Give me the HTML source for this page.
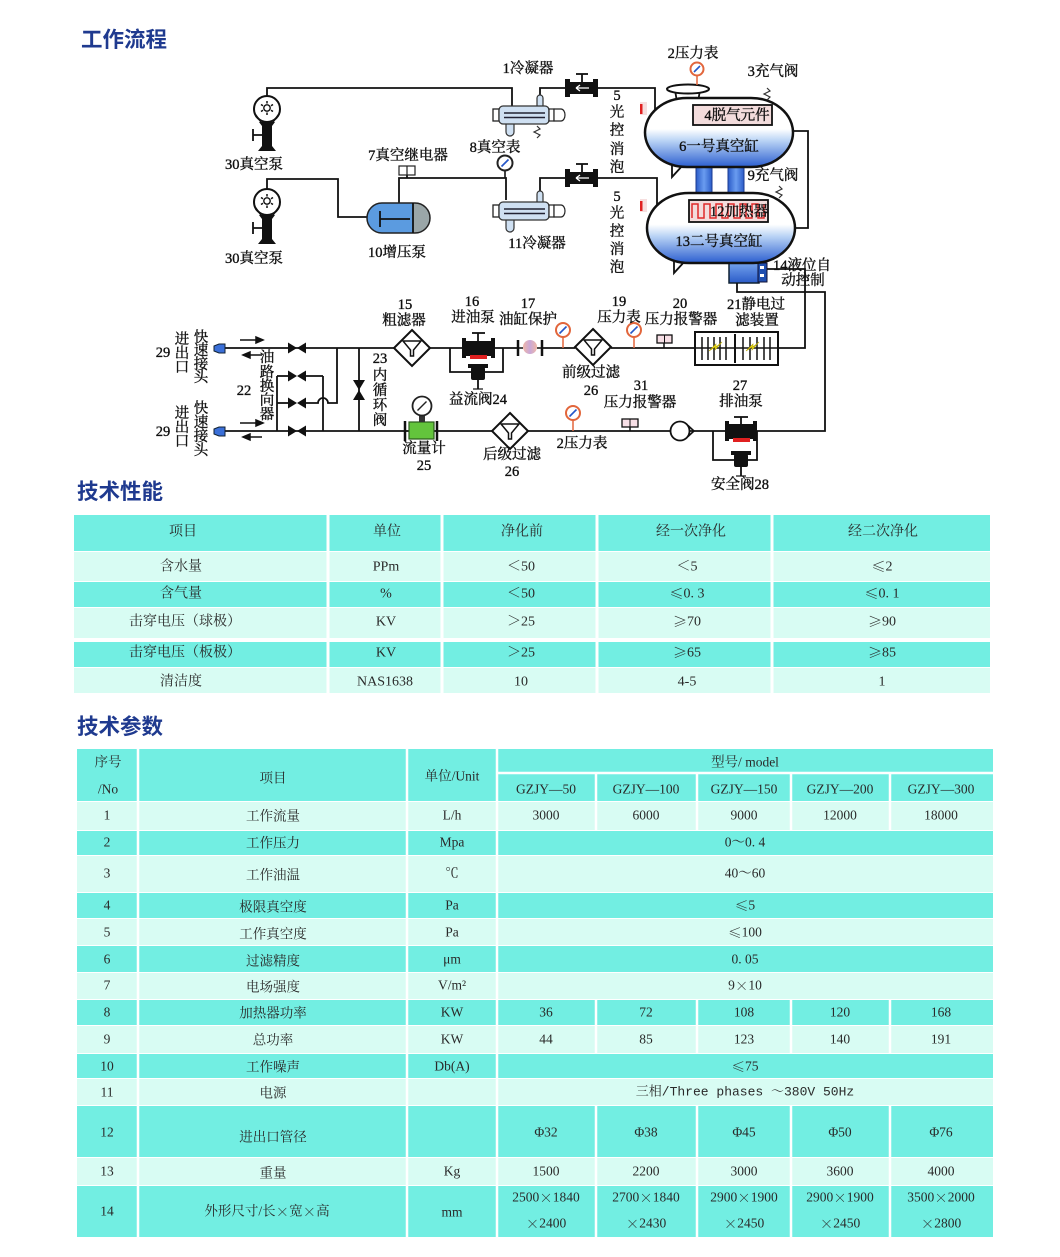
<!DOCTYPE html>
<html><head><meta charset="utf-8">
<style>
html,body{margin:0;padding:0;background:#fff;}
svg{display:block;}
.t{font-family:"Liberation Serif","Noto Serif CJK SC",serif;font-size:14.5px;fill:#111;stroke:#111;stroke-width:0.35;}
.tb{font-family:"Liberation Serif","Noto Serif CJK SC",serif;font-size:14px;fill:#2a2a2a;}
.tc{font-family:"Liberation Serif","Noto Serif CJK SC",serif;font-size:13.5px;fill:#2a2a2a;}
.tm{font-family:"Liberation Mono","Noto Serif CJK SC",monospace;font-size:13px;fill:#2a2a2a;}
.cj{font-family:"Noto Serif CJK SC",serif;}
.h{font-family:"Liberation Sans","Noto Sans CJK SC",sans-serif;font-size:21.5px;font-weight:700;fill:#1f3a8f;}
</style></head><body>
<svg width="1060" height="1257" viewBox="0 0 1060 1257" xmlns="http://www.w3.org/2000/svg">
<defs>
<linearGradient id="tank" x1="0" y1="0" x2="0" y2="1">
 <stop offset="0" stop-color="#ffffff"/>
 <stop offset="0.45" stop-color="#ffffff"/>
 <stop offset="0.62" stop-color="#b9d3f5"/>
 <stop offset="1" stop-color="#2c5fd0"/>
</linearGradient>
<linearGradient id="pipe" x1="0" y1="0" x2="1" y2="0">
 <stop offset="0" stop-color="#2a5bc8"/><stop offset="0.5" stop-color="#6a9cf0"/><stop offset="1" stop-color="#2a5bc8"/>
</linearGradient>
<linearGradient id="box" x1="0" y1="0" x2="0" y2="1">
 <stop offset="0" stop-color="#86b4f6"/><stop offset="1" stop-color="#2a5bc8"/>
</linearGradient>
<linearGradient id="p17" x1="0" y1="0" x2="1" y2="0">
 <stop offset="0" stop-color="#efb6a8"/><stop offset="0.5" stop-color="#c9a8d8"/><stop offset="1" stop-color="#f0b8a8"/>
</linearGradient>
<clipPath id="cap"><rect x="367" y="203" width="63" height="30" rx="15" ry="15"/></clipPath>
</defs>

<!-- ============ TITLES ============ -->
<text x="81" y="40" class="h" dominant-baseline="central">工作流程</text>
<text x="77" y="492" class="h" dominant-baseline="central">技术性能</text>
<text x="77" y="727" class="h" dominant-baseline="central">技术参数</text>

<!-- ============ TABLE 1 ============ -->
<g>
<rect x="74" y="515" width="916" height="36" fill="#72eee2"/>
<rect x="74" y="552" width="916" height="29" fill="#d8fcf3"/>
<rect x="74" y="582" width="916" height="25" fill="#72eee2"/>
<rect x="74" y="608" width="916" height="30" fill="#d8fcf3"/>
<rect x="74" y="642" width="916" height="25" fill="#72eee2"/>
<rect x="74" y="668" width="916" height="25" fill="#d8fcf3"/>
<g stroke="#fff" stroke-width="3">
<line x1="328" y1="515" x2="328" y2="693"/>
<line x1="442" y1="515" x2="442" y2="693"/>
<line x1="597" y1="515" x2="597" y2="693"/>
<line x1="772" y1="515" x2="772" y2="693"/>
</g>
<g class="tb" text-anchor="middle" dominant-baseline="central">
<text x="183" y="532">项目</text><text x="387" y="532">单位</text><text x="522" y="532">净化前</text><text x="691" y="532">经一次净化</text><text x="883" y="532">经二次净化</text>
<text x="181" y="567">含水量</text><text x="386" y="567">PPm</text><text x="521" y="567">＜50</text><text x="687" y="567">＜5</text><text x="882" y="567"><tspan class="cj">≤</tspan>2</text>
<text x="181" y="594">含气量</text><text x="386" y="594">%</text><text x="521" y="594">＜50</text><text x="687" y="594"><tspan class="cj">≤</tspan>0. 3</text><text x="882" y="594"><tspan class="cj">≤</tspan>0. 1</text>
<text x="185" y="622">击穿电压（球极）</text><text x="386" y="622">KV</text><text x="521" y="622">＞25</text><text x="687" y="622"><tspan class="cj">≥</tspan>70</text><text x="882" y="622"><tspan class="cj">≥</tspan>90</text>
<text x="185" y="653">击穿电压（板极）</text><text x="386" y="653">KV</text><text x="521" y="653">＞25</text><text x="687" y="653"><tspan class="cj">≥</tspan>65</text><text x="882" y="653"><tspan class="cj">≥</tspan>85</text>
<text x="181" y="682">清洁度</text><text x="385" y="682">NAS1638</text><text x="521" y="682">10</text><text x="687" y="682">4-5</text><text x="882" y="682">1</text>
</g>
</g>

<!-- ============ TABLE 2 ============ -->
<g>
<rect x="77" y="749" width="916" height="52" fill="#72eee2"/>
<rect x="77" y="802" width="916" height="28" fill="#d8fcf3"/>
<rect x="77" y="831" width="916" height="24" fill="#72eee2"/>
<rect x="77" y="856" width="916" height="36" fill="#d8fcf3"/>
<rect x="77" y="893" width="916" height="25" fill="#72eee2"/>
<rect x="77" y="919" width="916" height="26" fill="#d8fcf3"/>
<rect x="77" y="946" width="916" height="26" fill="#72eee2"/>
<rect x="77" y="973" width="916" height="26" fill="#d8fcf3"/>
<rect x="77" y="1000" width="916" height="25" fill="#72eee2"/>
<rect x="77" y="1026" width="916" height="27" fill="#d8fcf3"/>
<rect x="77" y="1054" width="916" height="24" fill="#72eee2"/>
<rect x="77" y="1079" width="916" height="26" fill="#d8fcf3"/>
<rect x="77" y="1106" width="916" height="51" fill="#72eee2"/>
<rect x="77" y="1158" width="916" height="27" fill="#d8fcf3"/>
<rect x="77" y="1186" width="916" height="51" fill="#72eee2"/>
<g stroke="#fff" stroke-width="2.5">
<line x1="138" y1="749" x2="138" y2="1237"/>
<line x1="407" y1="749" x2="407" y2="1237"/>
<line x1="497" y1="749" x2="497" y2="1237"/>
<line x1="497" y1="773" x2="993" y2="773"/>
<line x1="596" y1="773" x2="596" y2="801"/><line x1="697" y1="773" x2="697" y2="801"/><line x1="791" y1="773" x2="791" y2="801"/><line x1="890" y1="773" x2="890" y2="801"/>
<line x1="596" y1="802" x2="596" y2="830"/><line x1="697" y1="802" x2="697" y2="830"/><line x1="791" y1="802" x2="791" y2="830"/><line x1="890" y1="802" x2="890" y2="830"/>
<line x1="596" y1="1000" x2="596" y2="1053"/><line x1="697" y1="1000" x2="697" y2="1053"/><line x1="791" y1="1000" x2="791" y2="1053"/><line x1="890" y1="1000" x2="890" y2="1053"/>
<line x1="596" y1="1106" x2="596" y2="1237"/><line x1="697" y1="1106" x2="697" y2="1237"/><line x1="791" y1="1106" x2="791" y2="1237"/><line x1="890" y1="1106" x2="890" y2="1237"/>
</g>
<g class="tc" text-anchor="middle" dominant-baseline="central">
<text x="108" y="762">序号</text><text x="108" y="789">/No</text>
<text x="273" y="778">项目</text>
<text x="452" y="776">单位/Unit</text>
<text x="745" y="762">型号/ model</text>
<text x="546" y="789">GZJY—50</text><text x="646" y="789">GZJY—100</text><text x="744" y="789">GZJY—150</text><text x="840" y="789">GZJY—200</text><text x="941" y="789">GZJY—300</text>

<text x="107" y="815">1</text><text x="273" y="816">工作流量</text><text x="452" y="815">L/h</text>
<text x="546" y="815">3000</text><text x="646" y="815">6000</text><text x="744" y="815">9000</text><text x="840" y="815">12000</text><text x="941" y="815">18000</text>

<text x="107" y="842">2</text><text x="273" y="843">工作压力</text><text x="452" y="842">Mpa</text><text x="745" y="842">0～0. 4</text>
<text x="107" y="873">3</text><text x="273" y="875">工作油温</text><text x="452" y="873">℃</text><text x="745" y="873">40～60</text>
<text x="107" y="905">4</text><text x="273" y="907">极限真空度</text><text x="452" y="905">Pa</text><text x="745" y="905"><tspan class="cj">≤</tspan>5</text>
<text x="107" y="932">5</text><text x="273" y="934">工作真空度</text><text x="452" y="932">Pa</text><text x="745" y="932"><tspan class="cj">≤</tspan>100</text>
<text x="107" y="959">6</text><text x="273" y="961">过滤精度</text><text x="452" y="959">μm</text><text x="745" y="959">0. 05</text>
<text x="107" y="985">7</text><text x="273" y="987">电场强度</text><text x="452" y="985">V/m²</text><text x="745" y="985">9<tspan class="cj">×</tspan>10</text>
<text x="107" y="1012">8</text><text x="273" y="1013">加热器功率</text><text x="452" y="1012">KW</text>
<text x="546" y="1012">36</text><text x="646" y="1012">72</text><text x="744" y="1012">108</text><text x="840" y="1012">120</text><text x="941" y="1012">168</text>
<text x="107" y="1039">9</text><text x="273" y="1040">总功率</text><text x="452" y="1039">KW</text>
<text x="546" y="1039">44</text><text x="646" y="1039">85</text><text x="744" y="1039">123</text><text x="840" y="1039">140</text><text x="941" y="1039">191</text>
<text x="107" y="1066">10</text><text x="273" y="1067">工作噪声</text><text x="452" y="1066">Db(A)</text><text x="745" y="1066"><tspan class="cj">≤</tspan>75</text>
<text x="107" y="1092">11</text><text x="273" y="1093">电源</text>
<text x="107" y="1132">12</text><text x="273" y="1137">进出口管径</text>
<text x="546" y="1132">Φ32</text><text x="646" y="1132">Φ38</text><text x="744" y="1132">Φ45</text><text x="840" y="1132">Φ50</text><text x="941" y="1132">Φ76</text>
<text x="107" y="1171">13</text><text x="273" y="1173">重量</text><text x="452" y="1171">Kg</text>
<text x="546" y="1171">1500</text><text x="646" y="1171">2200</text><text x="744" y="1171">3000</text><text x="840" y="1171">3600</text><text x="941" y="1171">4000</text>
<text x="107" y="1211">14</text><text x="267" y="1211">外形尺寸/长<tspan class="cj">×</tspan>宽<tspan class="cj">×</tspan>高</text><text x="452" y="1212">mm</text>
<text x="546" y="1197">2500<tspan class="cj">×</tspan>1840</text><text x="646" y="1197">2700<tspan class="cj">×</tspan>1840</text><text x="744" y="1197">2900<tspan class="cj">×</tspan>1900</text><text x="840" y="1197">2900<tspan class="cj">×</tspan>1900</text><text x="941" y="1197">3500<tspan class="cj">×</tspan>2000</text>
<text x="546" y="1223"><tspan class="cj">×</tspan>2400</text><text x="646" y="1223"><tspan class="cj">×</tspan>2430</text><text x="744" y="1223"><tspan class="cj">×</tspan>2450</text><text x="840" y="1223"><tspan class="cj">×</tspan>2450</text><text x="941" y="1223"><tspan class="cj">×</tspan>2800</text>
</g>
<text x="745" y="1092" class="tm" text-anchor="middle" dominant-baseline="central">三相/Three phases ～380V 50Hz</text>
</g>

<!-- ============ DIAGRAM: TOP ============ -->
<rect x="696" y="160" width="16" height="38" fill="url(#pipe)" stroke="#1a3a90" stroke-width="1"/>
<rect x="728" y="160" width="16" height="38" fill="url(#pipe)" stroke="#1a3a90" stroke-width="1"/>
<rect x="729" y="258" width="30" height="25" fill="url(#box)" stroke="#123" stroke-width="1.5"/>
<rect x="758" y="263" width="9" height="19" fill="#1f4fb0" stroke="#113" stroke-width="1"/>
<rect x="760" y="266" width="4" height="3" fill="#fff"/><rect x="760" y="274" width="4" height="3" fill="#fff"/>

<g fill="none" stroke="#111" stroke-width="1.8">
<polyline points="267,96 267,88 512,88 512,106"/>
<polyline points="540,98 540,88 565,88"/>
<polyline points="598,88 655,88 655,110"/>
<polyline points="267,189 267,179 338,179 338,217 367,217"/>
<polyline points="399,203 399,178 506,178 506,200"/>
<polyline points="540,193 540,178 565,178"/>
<polyline points="598,178 657,178 657,206"/>
<polyline points="793,131 808,131 808,228 795,228"/>
<polyline points="767,269 805,269 805,348 778,348"/>
<polyline points="737,283 737,292 825,292 825,431 757,431"/>
<line x1="407" y1="175" x2="407" y2="178"/>
</g>

<polygon points="672,160 672,177 683,165" fill="#fff" stroke="#111" stroke-width="1.8"/>
<polygon points="674,256 674,273 685,261" fill="#fff" stroke="#111" stroke-width="1.8"/>

<path d="M675,90 L700,90 L698,102 L677,102 Z" fill="#fff" stroke="#111" stroke-width="1.8"/>
<rect x="645" y="98" width="148" height="69" rx="42" ry="34.5" fill="url(#tank)" stroke="#111" stroke-width="2.5"/>
<rect x="647" y="193" width="148" height="70" rx="42" ry="35" fill="url(#tank)" stroke="#111" stroke-width="2.5"/>
<ellipse cx="688" cy="89" rx="21" ry="4.5" fill="#fff" stroke="#111" stroke-width="2"/>
<line x1="697" y1="76" x2="697" y2="85" stroke="#e2663c" stroke-width="1.5"/>
<circle cx="697" cy="69" r="6.5" fill="#fff" stroke="#e2663c" stroke-width="2"/>
<line x1="694" y1="72" x2="700" y2="66" stroke="#2456c8" stroke-width="1.6"/>
<polyline points="767,88 770,91 764,94 770,97 767,100" fill="none" stroke="#333" stroke-width="1.2"/>
<polyline points="779,186 782,189 776,192 782,195 779,198" fill="none" stroke="#333" stroke-width="1.2"/>
<rect x="693" y="105" width="79" height="20" fill="#f3dcdc" stroke="#111" stroke-width="1.8"/>
<rect x="689" y="200" width="79" height="22" fill="#f3dcdc" stroke="#111" stroke-width="1.8"/>
<path d="M692,218 V204 H698 V218 H704 V204 H710 V218 H716 V204 H722 V218 H728 V204 H734 V218 H740 V204 H746 V218 H752 V204 H758 V218 H764 V204" fill="none" stroke="#e02a2a" stroke-width="1.5"/>
<rect x="640" y="102" width="7" height="13" fill="#f6dede"/><rect x="640" y="104" width="2.5" height="10" fill="#e02020"/>
<rect x="640" y="199" width="7" height="13" fill="#f6dede"/><rect x="640" y="201" width="2.5" height="10" fill="#e02020"/>

<g fill="#111">
<rect x="565" y="79" width="5" height="18"/><rect x="569" y="82" width="25" height="12"/><rect x="593" y="79" width="5" height="18"/>
<rect x="565" y="169" width="5" height="18"/><rect x="569" y="172" width="25" height="12"/><rect x="593" y="169" width="5" height="18"/>
</g>
<g stroke="#fff" stroke-width="1.3" fill="none">
<path d="M576,88 H589 M576,88 l4,-3 M576,88 l4,3"/>
<path d="M576,178 H589 M576,178 l4,-3 M576,178 l4,3"/>
</g>
<g stroke="#111" stroke-width="1.8">
<line x1="582" y1="82" x2="582" y2="74"/><line x1="576" y1="74" x2="588" y2="74"/>
<line x1="582" y1="172" x2="582" y2="164"/><line x1="576" y1="164" x2="588" y2="164"/>
</g>

<g>
 <rect x="493" y="109" width="6" height="12" fill="#fff" stroke="#222" stroke-width="1.3"/>
 <path d="M506,123 v9 a4,4 0 0 0 8,0 v-9" fill="#cfe0f2" stroke="#333" stroke-width="1.2"/>
 <path d="M537,107 v-9 a3,3 0 0 1 6,0 v9" fill="#cfe0f2" stroke="#333" stroke-width="1.2"/>
 <rect x="499" y="106" width="50" height="18" rx="4" fill="#cfe0f2" stroke="#333" stroke-width="1.3"/>
 <line x1="504" y1="113" x2="545" y2="113" stroke="#223" stroke-width="1.6"/>
 <line x1="504" y1="117.5" x2="545" y2="117.5" stroke="#223" stroke-width="1.6"/>
 <rect x="549" y="109" width="5" height="12" fill="#fff" stroke="#222" stroke-width="1.2"/>
 <path d="M554,109 h7 a4,6 0 0 1 0,12 h-7 z" fill="#fff" stroke="#222" stroke-width="1.2"/>
</g>
<polyline points="537,126 540,129 534,132 540,135 537,138" fill="none" stroke="#333" stroke-width="1.2"/>
<g transform="translate(0,96)">
 <rect x="493" y="109" width="6" height="12" fill="#fff" stroke="#222" stroke-width="1.3"/>
 <path d="M506,123 v9 a4,4 0 0 0 8,0 v-9" fill="#cfe0f2" stroke="#333" stroke-width="1.2"/>
 <path d="M537,107 v-9 a3,3 0 0 1 6,0 v9" fill="#cfe0f2" stroke="#333" stroke-width="1.2"/>
 <rect x="499" y="106" width="50" height="18" rx="4" fill="#cfe0f2" stroke="#333" stroke-width="1.3"/>
 <line x1="504" y1="113" x2="545" y2="113" stroke="#223" stroke-width="1.6"/>
 <line x1="504" y1="117.5" x2="545" y2="117.5" stroke="#223" stroke-width="1.6"/>
 <rect x="549" y="109" width="5" height="12" fill="#fff" stroke="#222" stroke-width="1.2"/>
 <path d="M554,109 h7 a4,6 0 0 1 0,12 h-7 z" fill="#fff" stroke="#222" stroke-width="1.2"/>
</g>

<g transform="translate(267,109)">
 <circle r="13" fill="#fff" stroke="#111" stroke-width="2"/>
 <circle cx="0" cy="-1" r="3.2" fill="none" stroke="#111" stroke-width="1.4"/>
 <path d="M0,-8 V-5.5 M0,3.5 V6 M-6,-4.5 L-4,-3.2 M6,-4.5 L4,-3.2 M-6,2.5 L-4,1.2 M6,2.5 L4,1.2 M-12,5 L-6,13 M12,5 L6,13" stroke="#111" stroke-width="1.5" fill="none"/>
 <polygon points="-8,13 8,13 5,17 -5,17" fill="#111"/>
 <rect x="-5" y="13" width="10" height="28" fill="#111"/>
 <polygon points="-5,37 5,37 9,42 -9,42" fill="#111"/>
 <path d="M-14,26 H-5 M-14,20 V32" stroke="#111" stroke-width="1.8"/>
</g>
<g transform="translate(267,202)">
 <circle r="13" fill="#fff" stroke="#111" stroke-width="2"/>
 <circle cx="0" cy="-1" r="3.2" fill="none" stroke="#111" stroke-width="1.4"/>
 <path d="M0,-8 V-5.5 M0,3.5 V6 M-6,-4.5 L-4,-3.2 M6,-4.5 L4,-3.2 M-6,2.5 L-4,1.2 M6,2.5 L4,1.2 M-12,5 L-6,13 M12,5 L6,13" stroke="#111" stroke-width="1.5" fill="none"/>
 <polygon points="-8,13 8,13 5,17 -5,17" fill="#111"/>
 <rect x="-5" y="13" width="10" height="28" fill="#111"/>
 <polygon points="-5,37 5,37 9,42 -9,42" fill="#111"/>
 <path d="M-14,26 H-5 M-14,20 V32" stroke="#111" stroke-width="1.8"/>
</g>

<g clip-path="url(#cap)">
<rect x="367" y="203" width="46" height="30" fill="#5b9be0"/>
<rect x="413" y="203" width="17" height="30" fill="#9aa6a8"/>
</g>
<rect x="367" y="203" width="63" height="30" rx="15" ry="15" fill="none" stroke="#222" stroke-width="1.5"/>
<g stroke="#111" stroke-width="1.8">
<line x1="413" y1="203" x2="413" y2="233"/>
<line x1="380" y1="211" x2="380" y2="227"/>
<line x1="380" y1="219" x2="410" y2="219"/>
</g>
<rect x="399" y="166" width="16" height="9" fill="#fff" stroke="#222" stroke-width="1.2"/>
<line x1="407" y1="166" x2="407" y2="175" stroke="#222" stroke-width="1.2"/>
<line x1="505" y1="170" x2="505" y2="178" stroke="#111" stroke-width="1.6"/>
<circle cx="505" cy="163" r="7.5" fill="#fff" stroke="#222" stroke-width="2"/>
<line x1="501.5" y1="166.5" x2="508.5" y2="159.5" stroke="#2456c8" stroke-width="1.7"/>

<!-- ============ DIAGRAM: MIDDLE ============ -->
<g fill="none" stroke="#111" stroke-width="1.8">
<line x1="225" y1="348" x2="394" y2="348"/>
<line x1="430" y1="348" x2="462" y2="348"/>
<polyline points="450,348 450,372 503,372 503,348"/>
<line x1="495" y1="348" x2="518" y2="348"/>
<line x1="542" y1="348" x2="575" y2="348"/>
<line x1="611" y1="348" x2="695" y2="348"/>
<line x1="277" y1="376" x2="288" y2="376"/>
<line x1="306" y1="376" x2="323" y2="376"/>
<line x1="277" y1="403" x2="288" y2="403"/>
<path d="M306,403 H318 A5,5 0 0 1 328,403 H337 V348"/>
<line x1="277" y1="376" x2="277" y2="431"/>
<line x1="323" y1="376" x2="323" y2="431"/>
<line x1="359" y1="348" x2="359" y2="431"/>
<line x1="225" y1="431" x2="405" y2="431"/>
<line x1="437" y1="431" x2="492" y2="431"/>
<line x1="528" y1="431" x2="671" y2="431"/>
<line x1="690" y1="431" x2="725" y2="431"/>
<polyline points="713,431 713,460 757,460 757,431"/>
</g>
<g stroke="#111" stroke-width="1.5" fill="#111">
<line x1="240" y1="340" x2="259" y2="340"/><polygon points="263,340 256,337 256,343"/>
<line x1="247" y1="355" x2="262" y2="355"/><polygon points="243,355 250,352 250,358"/>
<line x1="240" y1="423" x2="259" y2="423"/><polygon points="263,423 256,420 256,426"/>
<line x1="247" y1="437" x2="262" y2="437"/><polygon points="243,437 250,434 250,440"/>
</g>
<path d="M225,344 L219,344 L214,346 L214,351 L219,353 L225,353 Z" fill="#3a6fd8" stroke="#123" stroke-width="1"/>
<path d="M225,427 L219,427 L214,429 L214,434 L219,436 L225,436 Z" fill="#3a6fd8" stroke="#123" stroke-width="1"/>
<g fill="#111">
<polygon points="288,342.5 288,353.5 297,348"/><polygon points="306,342.5 306,353.5 297,348"/>
<polygon points="288,370.5 288,381.5 297,376"/><polygon points="306,370.5 306,381.5 297,376"/>
<polygon points="288,397.5 288,408.5 297,403"/><polygon points="306,397.5 306,408.5 297,403"/>
<polygon points="288,425.5 288,436.5 297,431"/><polygon points="306,425.5 306,436.5 297,431"/>
<polygon points="353,380 365,380 359,390"/><polygon points="353,400 365,400 359,390"/>
</g>
<g stroke="#111" fill="#fff">
<polygon points="412,330 430,348 412,366 394,348" stroke-width="2"/>
<path d="M403,341 h18 l-7.5,9 v6 h-3 v-6 z" stroke-width="1.5"/>
<polygon points="593,329 611,347 593,365 575,347" stroke-width="2"/>
<path d="M584,340 h18 l-7.5,9 v6 h-3 v-6 z" stroke-width="1.5"/>
<polygon points="510,413 528,431 510,449 492,431" stroke-width="2"/>
<path d="M501,424 h18 l-7.5,9 v6 h-3 v-6 z" stroke-width="1.5"/>
</g>
<g fill="#111">
<rect x="462" y="338" width="4" height="20"/><rect x="466" y="341" width="25" height="15"/><rect x="491" y="338" width="4" height="20"/>
<rect x="468" y="364" width="20" height="4"/><rect x="471" y="367" width="14" height="13" rx="2"/>
</g>
<rect x="470" y="355" width="17" height="4" fill="#e02020"/>
<g stroke="#111" stroke-width="1.8">
<line x1="478" y1="341" x2="478" y2="333"/><line x1="472" y1="333" x2="485" y2="333"/>
<line x1="478" y1="380" x2="478" y2="389"/><line x1="473" y1="389" x2="483" y2="389" stroke-width="1.2"/>
</g>
<g stroke="#111" stroke-width="2.5"><line x1="518" y1="340" x2="518" y2="356"/><line x1="542" y1="340" x2="542" y2="356"/></g>
<line x1="518" y1="348" x2="523" y2="348" stroke="#111" stroke-width="1.5"/><line x1="537" y1="348" x2="542" y2="348" stroke="#111" stroke-width="1.5"/>
<circle cx="530" cy="347" r="7" fill="url(#p17)"/>
<g>
<line x1="563" y1="337" x2="563" y2="348" stroke="#e2663c" stroke-width="1.5"/>
<circle cx="563" cy="330" r="7" fill="#fff" stroke="#e2663c" stroke-width="2"/>
<line x1="559.5" y1="333.5" x2="566.5" y2="326.5" stroke="#2456c8" stroke-width="1.6"/>
<line x1="634" y1="337" x2="634" y2="348" stroke="#e2663c" stroke-width="1.5"/>
<circle cx="634" cy="330" r="7" fill="#fff" stroke="#e2663c" stroke-width="2"/>
<line x1="630.5" y1="333.5" x2="637.5" y2="326.5" stroke="#2456c8" stroke-width="1.6"/>
<line x1="573" y1="420" x2="573" y2="431" stroke="#e2663c" stroke-width="1.5"/>
<circle cx="573" cy="413" r="7" fill="#fff" stroke="#e2663c" stroke-width="2"/>
<line x1="569.5" y1="416.5" x2="576.5" y2="409.5" stroke="#2456c8" stroke-width="1.6"/>
</g>
<line x1="664" y1="343" x2="664" y2="348" stroke="#111" stroke-width="1.5"/>
<rect x="657" y="335" width="15" height="8" fill="#f7dfe6" stroke="#111" stroke-width="1.3"/>
<line x1="664.5" y1="335" x2="664.5" y2="343" stroke="#111" stroke-width="1"/>
<line x1="630" y1="427" x2="630" y2="431" stroke="#111" stroke-width="1.5"/>
<rect x="622" y="419" width="16" height="8" fill="#f7dfe6" stroke="#111" stroke-width="1.3"/>
<line x1="630" y1="419" x2="630" y2="427" stroke="#111" stroke-width="1"/>
<rect x="695" y="332" width="83" height="33" fill="#fff" stroke="#111" stroke-width="2"/>
<g stroke="#111" stroke-width="1.5">
<line x1="695" y1="348" x2="778" y2="348"/>
<line x1="702" y1="337" x2="702" y2="360"/><line x1="708" y1="337" x2="708" y2="360"/><line x1="714" y1="337" x2="714" y2="360"/><line x1="720" y1="337" x2="720" y2="360"/><line x1="726" y1="337" x2="726" y2="360"/>
<line x1="735" y1="334" x2="735" y2="363" stroke-width="2"/>
<line x1="743" y1="337" x2="743" y2="360"/><line x1="750" y1="337" x2="750" y2="360"/><line x1="757" y1="337" x2="757" y2="360"/><line x1="764" y1="337" x2="764" y2="360"/><line x1="770" y1="337" x2="770" y2="360"/>
</g>
<polygon points="709,351 716,344 716,347 722,342 715,350 715,347" fill="#f2e21b" stroke="#b8a800" stroke-width="0.6"/>
<polygon points="746,351 753,344 753,347 759,342 752,350 752,347" fill="#f2e21b" stroke="#b8a800" stroke-width="0.6"/>
<g stroke="#111" stroke-width="2.5"><line x1="405" y1="421" x2="405" y2="441"/><line x1="437" y1="421" x2="437" y2="441"/></g>
<line x1="405" y1="431" x2="409" y2="431" stroke="#111" stroke-width="1.8"/><line x1="433" y1="431" x2="437" y2="431" stroke="#111" stroke-width="1.8"/>
<rect x="409" y="422" width="25" height="17" fill="#63c43c" stroke="#2a5a1a" stroke-width="1.2"/>
<rect x="419" y="415" width="6" height="7" fill="#333"/>
<circle cx="422" cy="406" r="9.5" fill="#fff" stroke="#222" stroke-width="1.8"/>
<line x1="417.5" y1="410.5" x2="426.5" y2="401.5" stroke="#222" stroke-width="1.4"/>
<circle cx="680" cy="431" r="9.5" fill="#fff" stroke="#111" stroke-width="1.8"/>
<path d="M688,425.5 L694,431 L688,436.5" fill="none" stroke="#111" stroke-width="1.6"/>
<g fill="#111">
<rect x="725" y="421" width="4" height="20"/><rect x="729" y="424" width="24" height="15"/><rect x="753" y="421" width="4" height="20"/>
<rect x="731" y="451" width="20" height="4"/><rect x="734" y="454" width="14" height="13" rx="2"/>
</g>
<rect x="733" y="438" width="17" height="4" fill="#e02020"/>
<g stroke="#111" stroke-width="1.8">
<line x1="741" y1="424" x2="741" y2="417"/><line x1="734" y1="417" x2="748" y2="417"/>
<line x1="741" y1="467" x2="741" y2="476"/><line x1="736" y1="476" x2="746" y2="476" stroke-width="1.2"/>
</g>

<!-- ============ DIAGRAM LABELS ============ -->
<g class="t" text-anchor="middle" dominant-baseline="central">
<text x="528" y="69">1冷凝器</text>
<text x="693" y="54">2压力表</text>
<text x="773" y="72">3充气阀</text>
<text x="737" y="116">4脱气元件</text>
<text x="719" y="147">6一号真空缸</text>
<text x="773" y="176">9充气阀</text>
<text x="739" y="212">12加热器</text>
<text x="719" y="242">13二号真空缸</text>
<text x="802" y="266">14液位自</text>
<text x="803" y="281">动控制</text>
<text x="254" y="165">30真空泵</text>
<text x="254" y="259">30真空泵</text>
<text x="408" y="156">7真空继电器</text>
<text x="495" y="148">8真空表</text>
<text x="397" y="253">10增压泵</text>
<text x="537" y="244">11冷凝器</text>
<text x="617" y="96">5</text><text x="617" y="113">光</text><text x="617" y="131">控</text><text x="617" y="150">消</text><text x="617" y="168">泡</text>
<text x="617" y="197">5</text><text x="617" y="214">光</text><text x="617" y="232">控</text><text x="617" y="250">消</text><text x="617" y="268">泡</text>

<text x="405" y="305">15</text><text x="404" y="321">粗滤器</text>
<text x="472" y="302">16</text><text x="473" y="318">进油泵</text>
<text x="528" y="304">17</text><text x="528" y="320">油缸保护</text>
<text x="619" y="302">19</text><text x="619" y="318">压力表</text>
<text x="680" y="304">20</text><text x="681" y="320">压力报警器</text>
<text x="756" y="305">21静电过</text><text x="757" y="321">滤装置</text>
<text x="163" y="353">29</text>
<text x="182" y="340">进</text><text x="182" y="354">出</text><text x="182" y="368">口</text>
<text x="201" y="338">快</text><text x="201" y="351">速</text><text x="201" y="365">接</text><text x="201" y="378">头</text>
<text x="163" y="432">29</text>
<text x="182" y="414">进</text><text x="182" y="428">出</text><text x="182" y="442">口</text>
<text x="201" y="409">快</text><text x="201" y="423">速</text><text x="201" y="437">接</text><text x="201" y="451">头</text>
<text x="267" y="358">油</text><text x="267" y="373">路</text><text x="267" y="387">换</text><text x="267" y="401">向</text><text x="267" y="415">器</text>
<text x="244" y="391">22</text>
<text x="380" y="359">23</text>
<text x="380" y="376">内</text><text x="380" y="391">循</text><text x="380" y="406">环</text><text x="380" y="421">阀</text>
<text x="478" y="400">益流阀24</text>
<text x="424" y="449">流量计</text><text x="424" y="466">25</text>
<text x="591" y="373">前级过滤</text><text x="591" y="391">26</text>
<text x="512" y="455">后级过滤</text><text x="512" y="472">26</text>
<text x="582" y="444">2压力表</text>
<text x="641" y="386">31</text><text x="640" y="403">压力报警器</text>
<text x="740" y="386">27</text><text x="741" y="402">排油泵</text>
<text x="740" y="485">安全阀28</text>
</g>
</svg>
</body></html>
